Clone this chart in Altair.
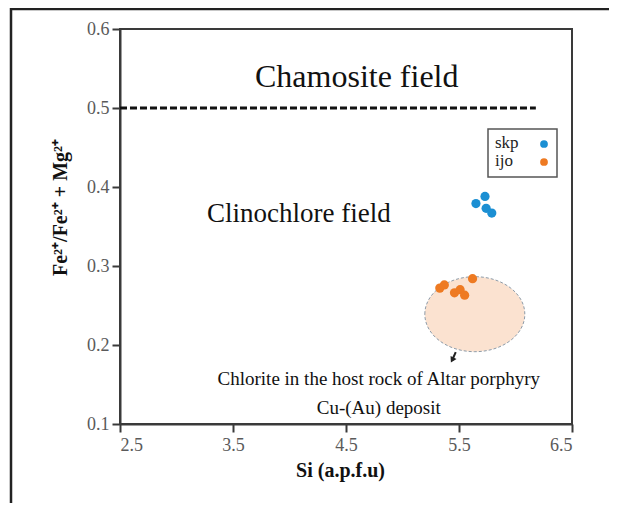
import altair as alt
import pandas as pd

# ---- data ----
series = ["skp", "skp", "skp", "skp", "ijo", "ijo", "ijo", "ijo", "ijo", "ijo"]
si_apfu = [5.65, 5.73, 5.74, 5.79, 5.33, 5.37, 5.46, 5.51, 5.55, 5.62]
fe_ratio = [0.379, 0.388, 0.373, 0.367, 0.272, 0.276, 0.266, 0.270, 0.263, 0.284]

series_names = ["skp", "ijo"]
series_colors = ["#1b8fd3", "#ee7a22"]

x_ticks = [2.5, 3.5, 4.5, 5.5, 6.5]
y_ticks = [0.1, 0.2, 0.3, 0.4, 0.5, 0.6]

boundary_x = [2.5, 6.18]
boundary_y = [0.5]

ellipse_center_x = [5.64]
ellipse_center_y = [0.239]

arrow_start = [5.471, 0.191]
arrow_end = [5.44, 0.181]

field_labels = ["Chamosite field", "Clinochlore field"]
field_x = [4.595, 4.083]
field_y = [0.527, 0.356]
field_size = [32, 27]

note_lines = ["Chlorite in the host rock of Altar porphyry", "Cu-(Au) deposit"]
note_x = [4.79]
note_y = [0.149]

FONT = "Liberation Serif"

df = pd.DataFrame({"series": series, "si": si_apfu, "fe": fe_ratio})

xscale = alt.Scale(domain=[2.5, 6.5], nice=False, zero=False)
yscale = alt.Scale(domain=[0.1, 0.6], nice=False, zero=False)

x_enc = alt.X("si:Q", scale=xscale,
              axis=alt.Axis(values=x_ticks, format=".1f", title="Si (a.p.f.u)",
                            titleX=220, titleY=52, titleBaseline="alphabetic",
                            labelPadding=4))
y_enc = alt.Y("fe:Q", scale=yscale,
              axis=alt.Axis(values=y_ticks, format=".1f",
                            title="Fe²⁺/Fe²⁺ + Mg²⁺",
                            titleX=-60, titleY=178, titleBaseline="middle",
                            titleAlign="center", labelPadding=3))

# ellipse (Altar host-rock field)
ell_df = pd.DataFrame({"si": ellipse_center_x, "fe": ellipse_center_y})
ellipse = alt.Chart(ell_df).mark_point(
    shape="M -1 0 A 1 0.75 0 1 1 1 0 A 1 0.75 0 1 1 -1 0 Z",
    size=10000, filled=True, fill="#fbe2d0", fillOpacity=1,
    stroke="#8d9ba8", strokeWidth=1, strokeDash=[3, 2], opacity=1
).encode(x=x_enc, y=y_enc)

# arrow
arr_df = pd.DataFrame({"si": [arrow_start[0]], "fe": [arrow_start[1]],
                       "si2": [arrow_end[0]], "fe2": [arrow_end[1]]})
arrow_line = alt.Chart(arr_df).mark_rule(color="#222", strokeWidth=2).encode(
    x=x_enc, y=y_enc, x2="si2:Q", y2="fe2:Q")
arrow_head = alt.Chart(pd.DataFrame({"si": [arrow_end[0]], "fe": [arrow_end[1]]})).mark_point(
    shape="triangle-down", size=45, filled=True, color="#222", opacity=1, angle=27
).encode(x=x_enc, y=y_enc)

# dashed boundary
b_df = pd.DataFrame({"si": [boundary_x[0]], "si2": [boundary_x[1]], "fe": boundary_y})
boundary = alt.Chart(b_df).mark_rule(color="#111", strokeWidth=3, strokeDash=[7, 3]).encode(
    x=x_enc, x2="si2:Q", y=y_enc)

# points
points = alt.Chart(df).mark_circle(size=85, opacity=1).encode(
    x=x_enc, y=y_enc,
    color=alt.Color("series:N", scale=alt.Scale(domain=series_names, range=series_colors),
                    legend=None))

# field labels
f_layers = []
for lab, fx, fy, fs in zip(field_labels, field_x, field_y, field_size):
    f_layers.append(
        alt.Chart(pd.DataFrame({"si": [fx], "fe": [fy], "t": [lab]})).mark_text(
            font=FONT, fontSize=fs, color="#111", baseline="alphabetic", align="center"
        ).encode(x=x_enc, y=y_enc, text="t:N"))

note = alt.Chart(pd.DataFrame({"si": note_x, "fe": note_y})).mark_text(
    font=FONT, fontSize=19, color="#111", baseline="alphabetic", align="center",
    lineHeight=29, text=note_lines
).encode(x=x_enc, y=y_enc)

# legend (manual, labels left of symbols as in the reference)
leg_one = pd.DataFrame({"a": [0]})
leg_box = alt.Chart(leg_one).mark_rect(fill="white", stroke="#555", strokeWidth=1.5).encode(
    x=alt.value(368), x2=alt.value(437), y=alt.value(100), y2=alt.value(148))
leg_layers = [leg_box]
for i, (nm, col) in enumerate(zip(series_names, series_colors)):
    yy = 115 + 18 * i
    leg_layers.append(alt.Chart(leg_one).mark_text(
        font=FONT, fontSize=17, color="#222", align="left", baseline="middle", text=nm
    ).encode(x=alt.value(375), y=alt.value(yy - 1)))
    leg_layers.append(alt.Chart(leg_one).mark_circle(size=60, opacity=1, color=col).encode(
        x=alt.value(424), y=alt.value(yy)))

# outer frame of the figure (only top and left edges fall inside the picture)
frame = alt.Chart(leg_one).mark_rect(fill="transparent", stroke="#222", strokeWidth=2.5,
                                     clip=False).encode(
    x=alt.value(-109), x2=alt.value(700), y=alt.value(-20), y2=alt.value(700))

chart = alt.layer(
    frame, ellipse, boundary, arrow_line, arrow_head, points, *f_layers, note,
    *leg_layers
).properties(
    width=452, height=395,
    background="white",
    autosize=alt.AutoSizeParams(type="none"),
    padding={"left": 112, "top": 21, "right": 37, "bottom": 79},
).configure_view(
    stroke="#3a3a3a", strokeWidth=2
).configure_axis(
    grid=False,
    domainColor="#3a3a3a", domainWidth=2,
    tickColor="#3a3a3a", tickWidth=2, tickSize=8,
    labelFont=FONT, labelFontSize=18, labelColor="#5a5a5a",
    titleFont=FONT, titleFontSize=20, titleFontWeight="bold", titleColor="#111",
)

chart.save("out.html", embed_options={"renderer": "svg", "actions": False})
